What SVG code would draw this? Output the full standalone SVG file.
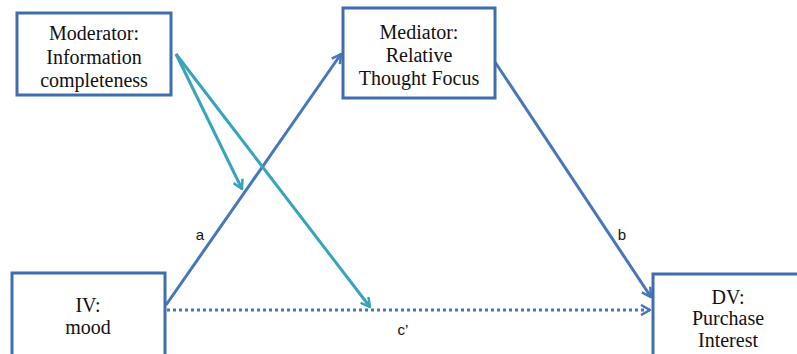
<svg xmlns="http://www.w3.org/2000/svg" width="797" height="354" viewBox="0 0 797 354">
<style>
.box{fill:#fff;stroke:#3F6DAE;stroke-width:3}
.t{font-family:"Liberation Serif","Times New Roman",serif;font-size:20px;fill:#111;text-anchor:middle}
.lbl{font-family:"Liberation Sans",Arial,sans-serif;font-size:15px;fill:#111;text-anchor:middle}
.blue{stroke:#4677BB;stroke-width:3;fill:none}
.teal{stroke:#38A3BE;stroke-width:3;fill:none}
.dot{stroke:#4677BB;stroke-width:3;fill:none;stroke-dasharray:3 3}
</style>
<defs>
<marker id="ab" viewBox="0 0 12 12" refX="11" refY="6" markerWidth="12" markerHeight="12" markerUnits="userSpaceOnUse" orient="auto">
<path d="M2,1 L11,6 L2,11" fill="none" stroke="#4677BB" stroke-width="2.5"/>
</marker>
<marker id="at" viewBox="0 0 12 12" refX="11" refY="6" markerWidth="12" markerHeight="12" markerUnits="userSpaceOnUse" orient="auto">
<path d="M2,1 L11,6 L2,11" fill="none" stroke="#38A3BE" stroke-width="2.5"/>
</marker>
</defs>
<g id="connectors">
<line class="blue" x1="166" y1="305" x2="341" y2="54" marker-end="url(#ab)"/>
<line class="blue" x1="495" y1="62" x2="651" y2="297" marker-end="url(#ab)"/>
<line class="dot" x1="167" y1="310" x2="650" y2="310" marker-end="url(#ab)"/>
<line class="teal" x1="176" y1="54" x2="242" y2="189" marker-end="url(#at)"/>
<line class="teal" x1="176" y1="54" x2="370" y2="307" marker-end="url(#at)"/>
<text class="lbl" x="200" y="240">a</text>
<text class="lbl" x="622" y="240">b</text>
<text class="lbl" x="403" y="335">c’</text>
</g>
<g id="moderator">
<rect class="box" x="17" y="13" width="154" height="82"/>
<text class="t" x="94" y="40">Moderator:</text>
<text class="t" x="94" y="64">Information</text>
<text class="t" x="94" y="87">completeness</text>
</g>
<g id="mediator">
<rect class="box" x="343" y="8" width="152" height="90"/>
<text class="t" x="419" y="39">Mediator:</text>
<text class="t" x="419" y="62">Relative</text>
<text class="t" x="419" y="85">Thought Focus</text>
</g>
<g id="iv">
<rect class="box" x="12" y="273" width="153" height="90"/>
<text class="t" x="88" y="312">IV:</text>
<text class="t" x="88" y="334">mood</text>
</g>
<g id="dv">
<rect class="box" x="653" y="274" width="160" height="90"/>
<text class="t" x="728" y="304">DV:</text>
<text class="t" x="728" y="325">Purchase</text>
<text class="t" x="728" y="347">Interest</text>
</g>
</svg>
